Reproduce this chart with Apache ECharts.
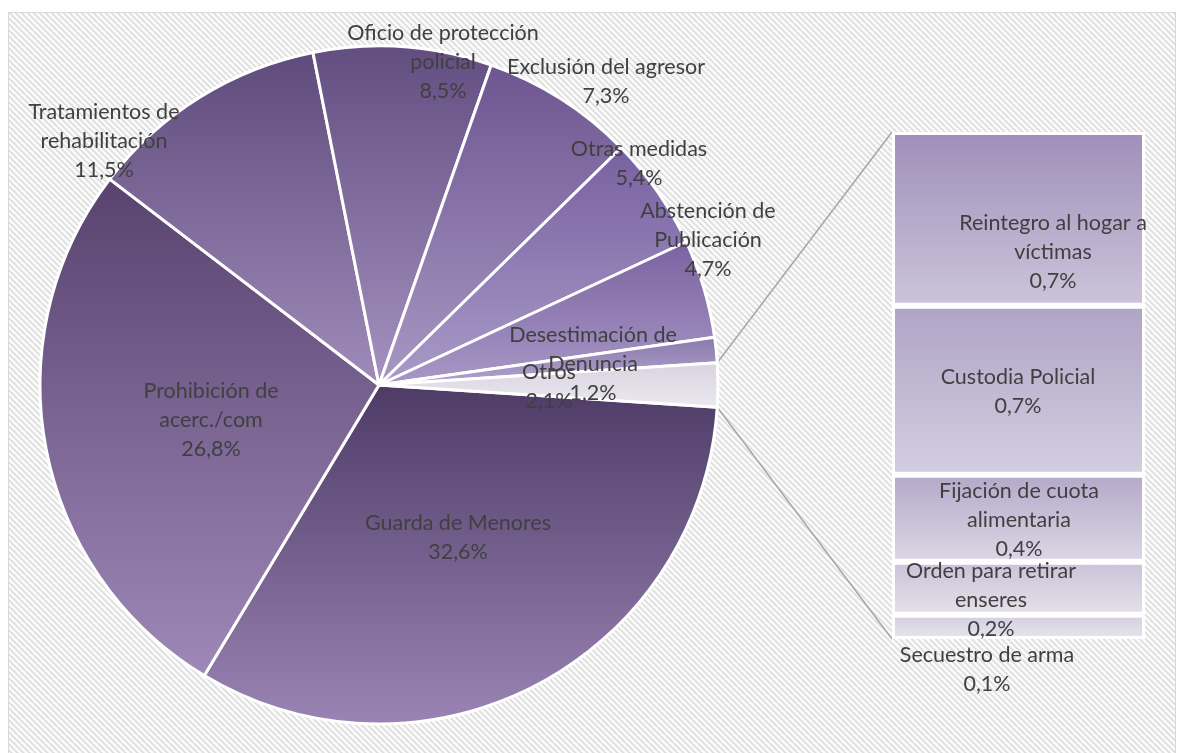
<!DOCTYPE html>
<html>
<head>
<meta charset="utf-8">
<script src="https://cdn.jsdelivr.net/npm/echarts@6/dist/echarts.min.js"></script>
<style>
  html, body { margin:0; padding:0; background:#ffffff; }
  #bg { position:absolute; left:8px; top:12px; width:1166px; height:745px; border:1px solid #d9d9d9; background-color:#f0f0f0; }
  #main { position:absolute; left:0; top:0; width:1184px; height:753px; }
</style>
</head>
<body>
<div id="bg"></div>
<div id="main"></div>
<script>
// ---- Data ----
const pieCategories = ['Guarda de Menores', 'Prohibición de acerc./com', 'Tratamientos de rehabilitación',
  'Oficio de protección policial', 'Exclusión del agresor', 'Otras medidas',
  'Abstención de Publicación', 'Desestimación de Denuncia'];
const pieValues = [32.6, 26.8, 11.5, 8.5, 7.3, 5.4, 4.7, 1.2];
const otherCategory = 'Otros';

const barCategories = ['Reintegro al hogar a víctimas', 'Custodia Policial', 'Fijación de cuota alimentaria',
  'Orden para retirar enseres', 'Secuestro de arma'];
const barValues = [0.72, 0.70, 0.36, 0.22, 0.10];

// ---- Background hatch (diagonal stripes) ----
(function () {
  const n = 6, c = document.createElement('canvas');
  c.width = n; c.height = n;
  const ctx = c.getContext('2d');
  const shade = [224, 224, 236, 253, 253, 244];
  for (let y = 0; y < n; y++) for (let x = 0; x < n; x++) {
    const v = shade[((x - y) % n + n) % n];
    ctx.fillStyle = 'rgb(' + v + ',' + v + ',' + v + ')';
    ctx.fillRect(x, y, 1, 1);
  }
  document.getElementById('bg').style.backgroundImage = 'url(' + c.toDataURL() + ')';
})();

// ---- Presentation ----
const labelText = {
  'Guarda de Menores': 'Guarda de Menores',
  'Prohibición de acerc./com': 'Prohibición de\nacerc./com',
  'Tratamientos de rehabilitación': 'Tratamientos de\nrehabilitación',
  'Oficio de protección policial': 'Oficio de protección\npolicial',
  'Exclusión del agresor': 'Exclusión del agresor',
  'Otras medidas': 'Otras medidas',
  'Abstención de Publicación': 'Abstención de\nPublicación',
  'Desestimación de Denuncia': 'Desestimación de\nDenuncia',
  'Otros': 'Otros',
  'Reintegro al hogar a víctimas': 'Reintegro al hogar a\nvíctimas',
  'Custodia Policial': 'Custodia Policial',
  'Fijación de cuota alimentaria': 'Fijación de cuota\nalimentaria',
  'Orden para retirar enseres': 'Orden para retirar\nenseres',
  'Secuestro de arma': 'Secuestro de arma'
};
const pieLabelPos = [[458,538],[211,420],[104,141],[443,62],[606,82],[639,164],[708,240],[593,364],[549,387]];
const barLabelPos = [[1053,252],[1018,392],[1019,520],[991,600],[987,670]];
const pieColors = [
  ['#4d3b66','#9a84b4'], ['#58436f','#9d88b8'], ['#5f4b7b','#a08cbb'], ['#624d80','#a492c0'],
  ['#6d5590','#a898c4'], ['#7760a0','#aa9bc8'], ['#7a62a0','#a898c6'], ['#8a77ad','#b2a6cd'],
  ['#d8d3e0','#ece9ef']
];
const barColors = [
  ['#a08fb9','#ccc4db'], ['#afa4c5','#d4cee1'], ['#b4a9c9','#dcd7e6'], ['#cac2d8','#e5e1ea'], ['#d3cddf','#e8e5ed']
];
const FONT = 'Lato, "Open Sans", sans-serif';
const TEXT = '#404040';
const FS = 21.5, LH = 29;
const fmt = v => v.toFixed(1).replace('.', ',') + '%';
const grad = c => new echarts.graphic.LinearGradient(0, 0, 0, 1, [{offset:0, color:c[0]}, {offset:1, color:c[1]}]);

const barSum = barValues.reduce((a, b) => a + b, 0);
const otherValue = Math.round(barSum * 10) / 10;
const allPieValues = pieValues.concat([otherValue]);
const allPieNames = pieCategories.concat([otherCategory]);
const pieTotal = allPieValues.reduce((a, b) => a + b, 0);
const halfOther = otherValue / pieTotal * 180; // degrees

const CX = 379, CY = 385, R = 339;
const GRID = { left: 892, top: 132, width: 253, height: 507 };

const chart = echarts.init(document.getElementById('main'), null, { renderer: 'canvas' });

const pieData = allPieNames.map((n, i) => ({
  name: n, value: allPieValues[i],
  itemStyle: { color: grad(pieColors[i]) }
}));

const barSeries = [];
for (let i = barCategories.length - 1; i >= 0; i--) {
  barSeries.push({
    type: 'bar', name: barCategories[i], stack: 'other', barWidth: '100%',
    xAxisIndex: 0, yAxisIndex: 0, silent: true,
    data: [{ value: barValues[i], itemStyle: { color: grad(barColors[i]) } }],
    itemStyle: { borderColor: '#ffffff', borderWidth: 3 },
    label: {
      show: true, position: 'inside',
      formatter: () => labelText[barCategories[i]] + '\n' + fmt(barValues[i]),
      color: TEXT, fontFamily: FONT, fontSize: FS, lineHeight: LH, align: 'center'
    },
    labelLayout: () => ({ x: barLabelPos[i][0], y: barLabelPos[i][1], align: 'center', verticalAlign: 'middle' })
  });
}

const pA = halfOther * Math.PI / 180;
const topPt = [CX + R * Math.cos(pA), CY - R * Math.sin(pA)];
const botPt = [CX + R * Math.cos(pA), CY + R * Math.sin(pA)];

chart.setOption({
  backgroundColor: 'transparent',
  animation: false,
  grid: { left: GRID.left, top: GRID.top, width: GRID.width, height: GRID.height },
  xAxis: { type: 'category', data: [''], show: false },
  yAxis: { type: 'value', min: 0, max: barSum, show: false },
  graphic: [
    { type: 'line', z: 0, shape: { x1: topPt[0], y1: topPt[1], x2: GRID.left, y2: GRID.top },
      style: { stroke: '#a6a6a6', lineWidth: 1.5 } },
    { type: 'line', z: 0, shape: { x1: botPt[0], y1: botPt[1], x2: GRID.left, y2: GRID.top + GRID.height },
      style: { stroke: '#a6a6a6', lineWidth: 1.5 } }
  ],
  series: [{
    type: 'pie', center: [CX, CY], radius: [0, R], startAngle: 360 - halfOther, clockwise: true,
    avoidLabelOverlap: false, silent: true,
    data: pieData,
    itemStyle: { borderColor: '#ffffff', borderWidth: 3 },
    label: {
      show: true, position: 'inside',
      formatter: p => labelText[p.name] + '\n' + fmt(p.value),
      color: TEXT, fontFamily: FONT, fontSize: FS, lineHeight: LH, align: 'center'
    },
    labelLine: { show: false },
    labelLayout: p => ({ x: pieLabelPos[p.dataIndex][0], y: pieLabelPos[p.dataIndex][1], align: 'center', verticalAlign: 'middle' })
  }].concat(barSeries)
});
</script>
</body>
</html>
